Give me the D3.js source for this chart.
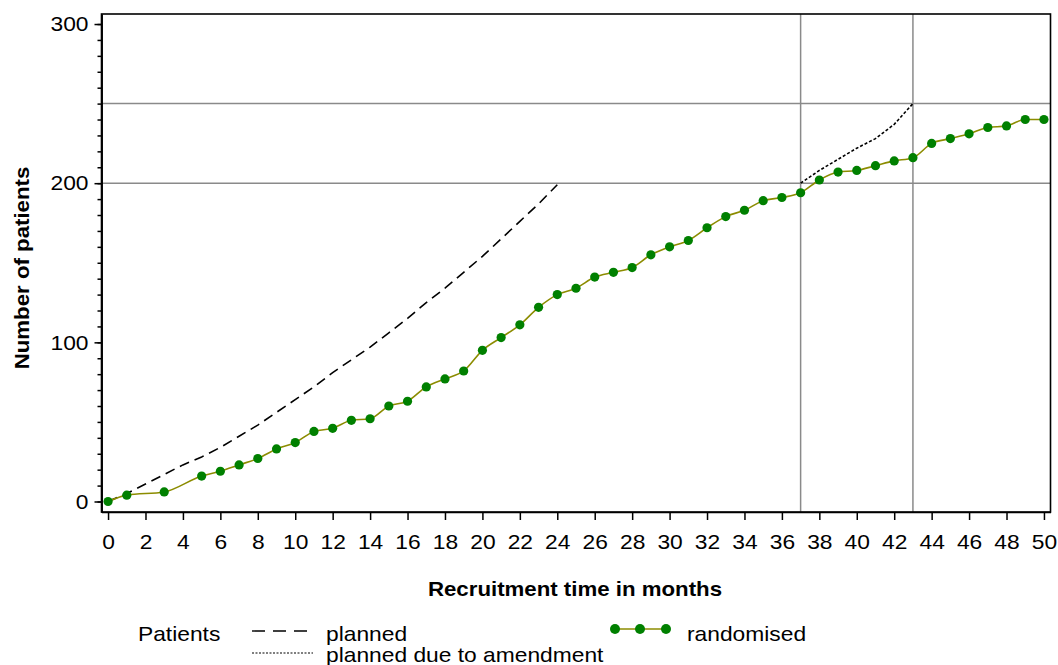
<!DOCTYPE html>
<html>
<head>
<meta charset="utf-8">
<script src="https://cdn.jsdelivr.net/npm/d3@7"></script>
<style>
  body { margin: 0; background: #fff; }
  text { font-family: "Liberation Sans", Arial, sans-serif; }
</style>
</head>
<body>
<div id="chart"></div>
<script>
// recruitment chart: planned vs randomised patients

var months = [0, 1, 3, 5, 6, 7, 8, 9, 10, 11, 12, 13, 14, 15, 16, 17, 18, 19, 20, 21, 22, 23, 24,
  25, 26, 27, 28, 29, 30, 31, 32, 33, 34, 35, 36, 37, 38, 39, 40, 41, 42, 43, 44, 45, 46, 47, 48, 49, 50]
var randomised = [0, 4, 6, 16, 19, 23, 27, 33, 37, 44, 46, 51, 52, 60, 63, 72, 77, 82, 95, 103, 111, 122, 130,
  134, 141, 144, 147, 155, 160, 164, 172, 179, 183, 189, 191, 194, 202, 207, 208, 211, 214, 216, 225, 228, 231, 235, 236, 240, 240]

var plannedMonths = d3.range(0, 25)
var planned = [0, 5, 11, 17, 23, 28, 34, 41, 48, 56, 64, 72, 81, 89, 97, 106, 115, 125, 134, 144, 154, 165, 176, 187, 199]

var amendMonths = [37, 38, 39, 40, 41, 42, 43]
var amended = [200, 208, 215, 222, 228, 237, 250]

var refLinesY = [200, 250]
var refLinesX = [37, 43]
var xTicks = d3.range(0, 51, 2)
var yTicks = [0, 100, 200, 300]
var yMinor = d3.range(0, 301, 10)

var W = 1058, H = 665
// plot box (window.top is reserved, so prefixed names)
var pLeft = 101.5, pRight = 1050.5, pTop = 14, pBottom = 512

var svg = d3.select('#chart').append('svg')
  .attr('width', W).attr('height', H)

var x = d3.scaleLinear().domain([-0.35, 50.35]).range([pLeft, pRight])
var y = d3.scaleLinear().domain([-6.6, 306.3]).range([pBottom, pTop])

// reference lines
svg.selectAll('.hline').data(refLinesY).enter().append('line')
  .attr('x1', pLeft).attr('x2', pRight)
  .attr('y1', function(d){ return y(d) }).attr('y2', function(d){ return y(d) })
  .attr('stroke', '#8a8a8a').attr('stroke-width', 1.5)
svg.selectAll('.vline').data(refLinesX).enter().append('line')
  .attr('y1', pTop).attr('y2', pBottom)
  .attr('x1', function(d){ return x(d) }).attr('x2', function(d){ return x(d) })
  .attr('stroke', '#8a8a8a').attr('stroke-width', 1.5)

// frame
svg.append('rect')
  .attr('x', pLeft).attr('y', pTop).attr('width', pRight - pLeft).attr('height', pBottom - pTop)
  .attr('fill', 'none').attr('stroke', '#000').attr('stroke-width', 1.6)

// axes
svg.append('g').attr('transform', 'translate(0,' + pBottom + ')')
  .call(d3.axisBottom(x).tickValues(xTicks).tickSize(8).tickPadding(14).tickSizeOuter(0))
svg.append('g').attr('transform', 'translate(' + pLeft + ',0)')
  .call(d3.axisLeft(y).tickValues(yMinor).tickSize(4).tickFormat('').tickSizeOuter(0))
svg.append('g').attr('transform', 'translate(' + pLeft + ',0)')
  .call(d3.axisLeft(y).tickValues(yTicks).tickSize(7).tickPadding(6).tickSizeOuter(0))

svg.selectAll('.domain').attr('stroke', '#000').attr('stroke-width', 1.6)
svg.selectAll('.tick line').attr('stroke', '#000').attr('stroke-width', 1.5)
svg.selectAll('.tick text').style('font-size', '21px').attr('fill', '#000')
  .style('font-family', '"Liberation Sans", Arial, sans-serif')

// axis titles
svg.append('text')
  .attr('transform', 'translate(29,268) rotate(-90)')
  .attr('text-anchor', 'middle')
  .style('font-size', '20.5px').style('font-weight', 'bold')
  .text('Number of patients')
svg.append('text')
  .attr('x', 575).attr('y', 596)
  .attr('text-anchor', 'middle')
  .style('font-size', '20.5px').style('font-weight', 'bold')
  .text('Recruitment time in months')

// planned
svg.append('path')
  .datum(plannedMonths.map(function(m, i){ return [m, planned[i]] }))
  .attr('fill', 'none').attr('stroke', '#000').attr('stroke-width', 1.6)
  .attr('stroke-dasharray', '10,6')
  .attr('d', d3.line().x(function(d){ return x(d[0]) }).y(function(d){ return y(d[1]) }))

// planned due to amendment
svg.append('path')
  .datum(amendMonths.map(function(m, i){ return [m, amended[i]] }))
  .attr('fill', 'none').attr('stroke', '#000').attr('stroke-width', 1.6)
  .attr('stroke-dasharray', '3,2')
  .attr('d', d3.line().x(function(d){ return x(d[0]) }).y(function(d){ return y(d[1]) }))

// randomised
var rand = months.map(function(m, i){ return [m, randomised[i]] })
svg.append('path')
  .datum(rand)
  .attr('fill', 'none').attr('stroke', '#8c8c00').attr('stroke-width', 1.6)
  .attr('d', d3.line().curve(d3.curveMonotoneX).x(function(d){ return x(d[0]) }).y(function(d){ return y(d[1]) }))
svg.selectAll('.pt').data(rand).enter().append('circle')
  .attr('cx', function(d){ return x(d[0]) }).attr('cy', function(d){ return y(d[1]) })
  .attr('r', 4.6).attr('fill', '#008000')

// legend
var lg = svg.append('g')
lg.append('text').attr('x', 138).attr('y', 641).style('font-size', '21px').text('Patients')
lg.append('line').attr('x1', 252).attr('x2', 313).attr('y1', 631).attr('y2', 631)
  .attr('stroke', '#000').attr('stroke-width', 1.4).attr('stroke-dasharray', '13,8')
lg.append('text').attr('x', 326).attr('y', 641).style('font-size', '21px').text('planned')
lg.append('line').attr('x1', 252).attr('x2', 313).attr('y1', 653).attr('y2', 653)
  .attr('stroke', '#000').attr('stroke-width', 1.2).attr('stroke-dasharray', '2,1.5')
lg.append('text').attr('x', 326).attr('y', 662).style('font-size', '21px').text('planned due to amendment')
lg.append('line').attr('x1', 612).attr('x2', 670).attr('y1', 629).attr('y2', 629)
  .attr('stroke', '#8c8c00').attr('stroke-width', 1.6)
lg.selectAll('.lm').data([615, 640, 666]).enter().append('circle')
  .attr('cx', function(d){ return d }).attr('cy', 629).attr('r', 5).attr('fill', '#008000')
lg.append('text').attr('x', 687).attr('y', 641).style('font-size', '21px').text('randomised')

// source image text is a bit wider than Arial, stretch it
svg.selectAll('text').each(function(){
  var len = this.getComputedTextLength()
  if (len > 0) d3.select(this).attr('textLength', len * 1.085).attr('lengthAdjust', 'spacingAndGlyphs')
})
</script>
</body>
</html>
